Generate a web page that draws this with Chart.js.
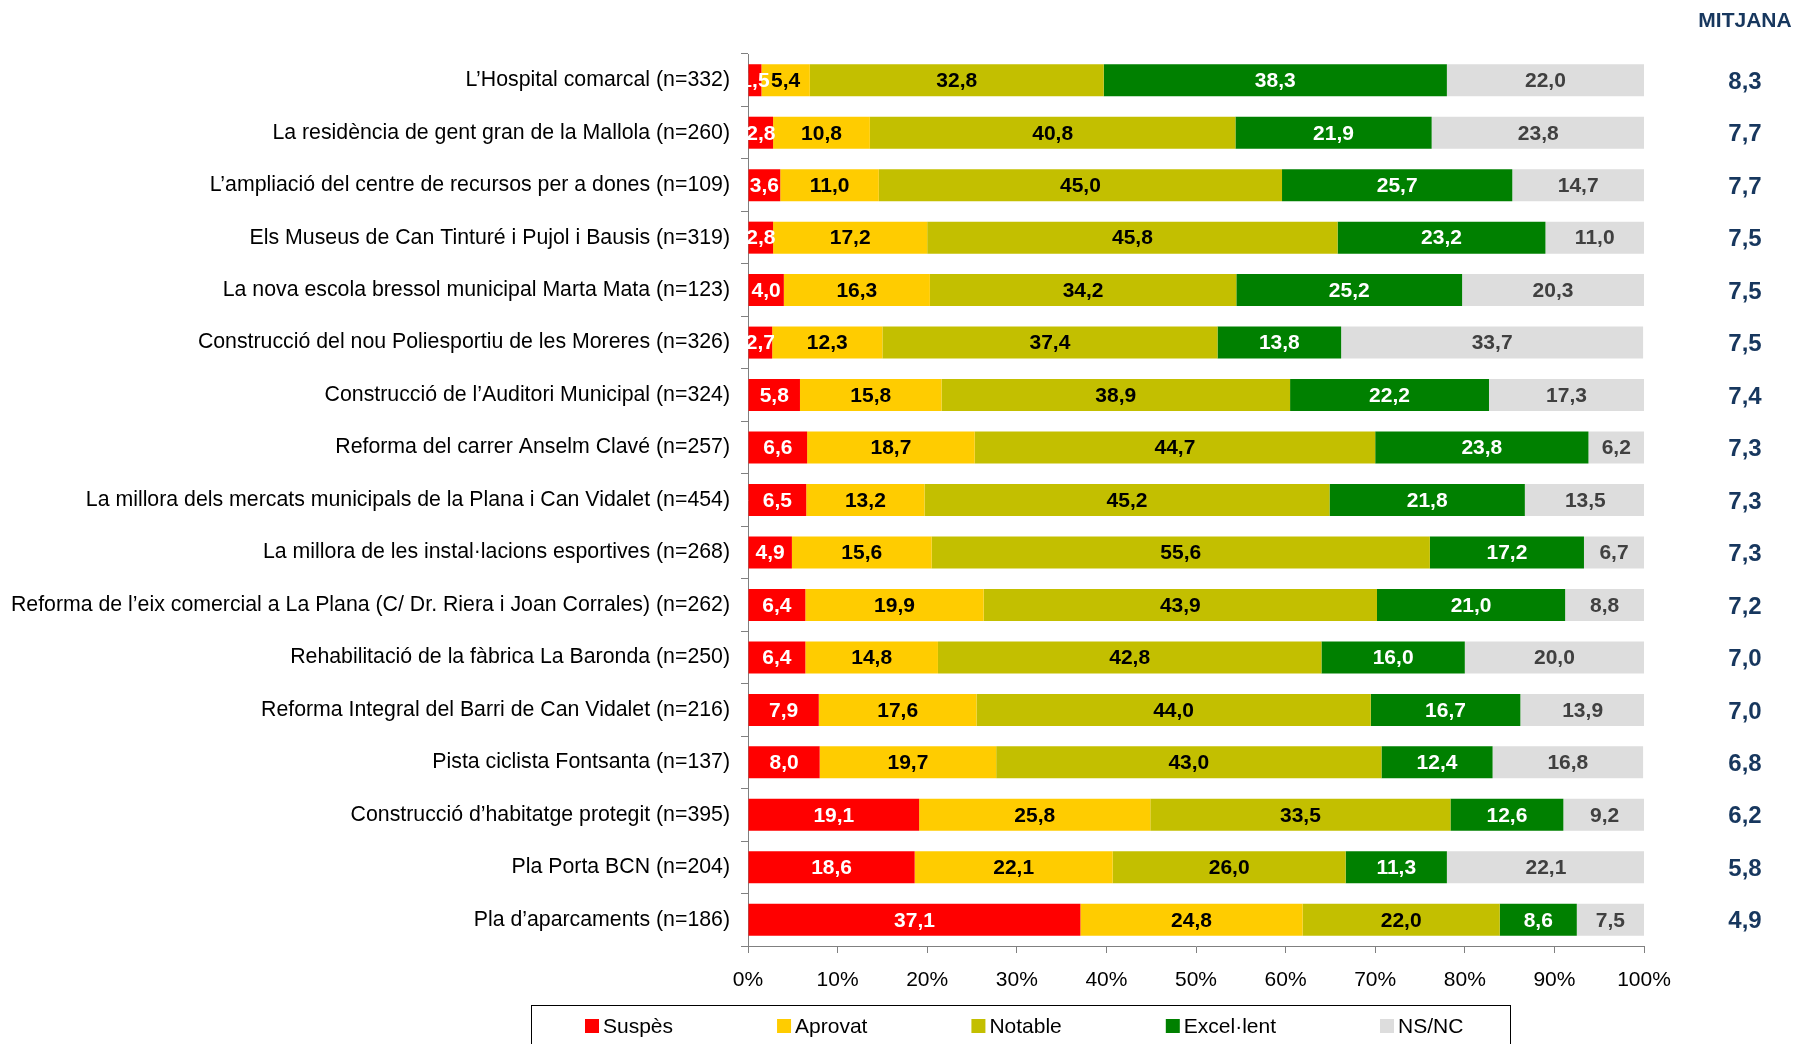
<!DOCTYPE html>
<html>
<head>
<meta charset="utf-8">
<script src="https://cdn.jsdelivr.net/npm/chart.js@4/dist/chart.umd.min.js"></script>
<style>
  body { margin: 0; background: #ffffff; }
  #wrap { width: 1794px; height: 1044px; }
</style>
</head>
<body>
<div id="wrap"><canvas id="valChart" width="1794" height="1044"></canvas></div>
<script>
const categories = [
  'L’Hospital comarcal (n=332)',
  'La residència de gent gran de la Mallola (n=260)',
  'L’ampliació del centre de recursos per a dones (n=109)',
  'Els Museus de Can Tinturé i Pujol i Bausis (n=319)',
  'La nova escola bressol municipal Marta Mata (n=123)',
  'Construcció del nou Poliesportiu de les Moreres (n=326)',
  'Construcció de l’Auditori Municipal (n=324)',
  'Reforma del carrer Anselm Clavé (n=257)',
  'La millora dels mercats municipals de la Plana i Can Vidalet (n=454)',
  'La millora de les instal·lacions esportives (n=268)',
  'Reforma de l’eix comercial a La Plana (C/ Dr. Riera i Joan Corrales) (n=262)',
  'Rehabilitació de la fàbrica La Baronda (n=250)',
  'Reforma Integral del Barri de Can Vidalet (n=216)',
  'Pista ciclista Fontsanta (n=137)',
  'Construcció d’habitatge protegit (n=395)',
  'Pla Porta BCN (n=204)',
  'Pla d’aparcaments (n=186)'
];

const suspes    = [1.5, 2.8, 3.6, 2.8, 4.0, 2.7, 5.8, 6.6, 6.5, 4.9, 6.4, 6.4, 7.9, 8.0, 19.1, 18.6, 37.1];
const aprovat   = [5.4, 10.8, 11.0, 17.2, 16.3, 12.3, 15.8, 18.7, 13.2, 15.6, 19.9, 14.8, 17.6, 19.7, 25.8, 22.1, 24.8];
const notable   = [32.8, 40.8, 45.0, 45.8, 34.2, 37.4, 38.9, 44.7, 45.2, 55.6, 43.9, 42.8, 44.0, 43.0, 33.5, 26.0, 22.0];
const excellent = [38.3, 21.9, 25.7, 23.2, 25.2, 13.8, 22.2, 23.8, 21.8, 17.2, 21.0, 16.0, 16.7, 12.4, 12.6, 11.3, 8.6];
const nsnc      = [22.0, 23.8, 14.7, 11.0, 20.3, 33.7, 17.3, 6.2, 13.5, 6.7, 8.8, 20.0, 13.9, 16.8, 9.2, 22.1, 7.5];
const mitjana   = [8.3, 7.7, 7.7, 7.5, 7.5, 7.5, 7.4, 7.3, 7.3, 7.3, 7.2, 7.0, 7.0, 6.8, 6.2, 5.8, 4.9];

const xTicks = [0, 10, 20, 30, 40, 50, 60, 70, 80, 90, 100];

const FONT = '"Liberation Sans", Arial, sans-serif';
const NAVY = '#17375e';

function fmt(v) {
  return v.toFixed(1).replace('.', ',');
}

// labels inside the segments, the MITJANA column and the boxed legend
const extrasPlugin = {
  id: 'extras',
  afterDatasetsDraw(chart) {
    const ctx = chart.ctx;
    ctx.save();
    ctx.textAlign = 'center';
    ctx.textBaseline = 'middle';
    ctx.font = 'bold 21px ' + FONT;
    chart.data.datasets.forEach((ds, di) => {
      const meta = chart.getDatasetMeta(di);
      meta.data.forEach((bar, i) => {
        const cx = (bar.x + bar.base) / 2;
        ctx.fillStyle = ds.labelColor;
        ctx.fillText(fmt(ds.data[i]), cx, bar.y + 1);
      });
    });

    // mean column
    const yScale = chart.scales.y;
    const colX = 1745;
    ctx.fillStyle = NAVY;
    ctx.font = 'bold 21px ' + FONT;
    ctx.fillText('MITJANA', colX, 21);
    ctx.font = 'bold 24px ' + FONT;
    mitjana.forEach((m, i) => {
      ctx.fillText(fmt(m), colX, yScale.getPixelForValue(i) + 2);
    });

    // legend box
    ctx.strokeStyle = '#000000';
    ctx.lineWidth = 1;
    ctx.strokeRect(531.5, 1005.5, 979, 60);
    let lx = 585;
    const ly = 1026;
    ctx.textAlign = 'left';
    ctx.font = '21px ' + FONT;
    chart.data.datasets.forEach(ds => {
      ctx.fillStyle = ds.backgroundColor;
      ctx.fillRect(lx, ly - 7, 14, 14);
      ctx.fillStyle = '#000000';
      ctx.fillText(ds.label, lx + 18, ly + 1);
      lx += 18 + ctx.measureText(ds.label).width + 104;
    });
    ctx.restore();
  }
};

const ctx = document.getElementById('valChart').getContext('2d');
new Chart(ctx, {
  type: 'bar',
  data: {
    labels: categories,
    datasets: [
      { label: 'Suspès', data: suspes, backgroundColor: '#ff0000', labelColor: '#ffffff' },
      { label: 'Aprovat', data: aprovat, backgroundColor: '#ffcc00', labelColor: '#000000' },
      { label: 'Notable', data: notable, backgroundColor: '#c3bf00', labelColor: '#000000' },
      { label: 'Excel·lent', data: excellent, backgroundColor: '#008000', labelColor: '#ffffff' },
      { label: 'NS/NC', data: nsnc, backgroundColor: '#dddddd', labelColor: '#404040' }
    ]
  },
  options: {
    indexAxis: 'y',
    responsive: false,
    animation: false,
    barPercentage: 0.61,
    categoryPercentage: 1.0,
    layout: { padding: { top: 54, right: 150, bottom: 38, left: 0 } },
    plugins: {
      legend: { display: false },
      tooltip: { enabled: false }
    },
    scales: {
      x: {
        stacked: true,
        min: 0,
        max: 100,
        afterBuildTicks: scale => { scale.ticks = xTicks.map(v => ({ value: v })); },
        afterFit: scale => { scale.height = 60; },
        grid: { drawOnChartArea: false, drawTicks: true, tickLength: 7, color: '#808080' },
        border: { color: '#808080' },
        ticks: {
          color: '#000000',
          padding: 15,
          font: { family: FONT, size: 21 },
          callback: v => v + '%'
        }
      },
      y: {
        stacked: true,
        afterFit: scale => { scale.width = 748; },
        grid: { drawOnChartArea: false, drawTicks: true, tickLength: 7, color: '#808080', offset: true },
        border: { color: '#808080' },
        ticks: {
          color: '#000000',
          padding: 11,
          autoSkip: false,
          font: { family: FONT, size: 21.3 }
        }
      }
    }
  },
  plugins: [extrasPlugin]
});
</script>
</body>
</html>
